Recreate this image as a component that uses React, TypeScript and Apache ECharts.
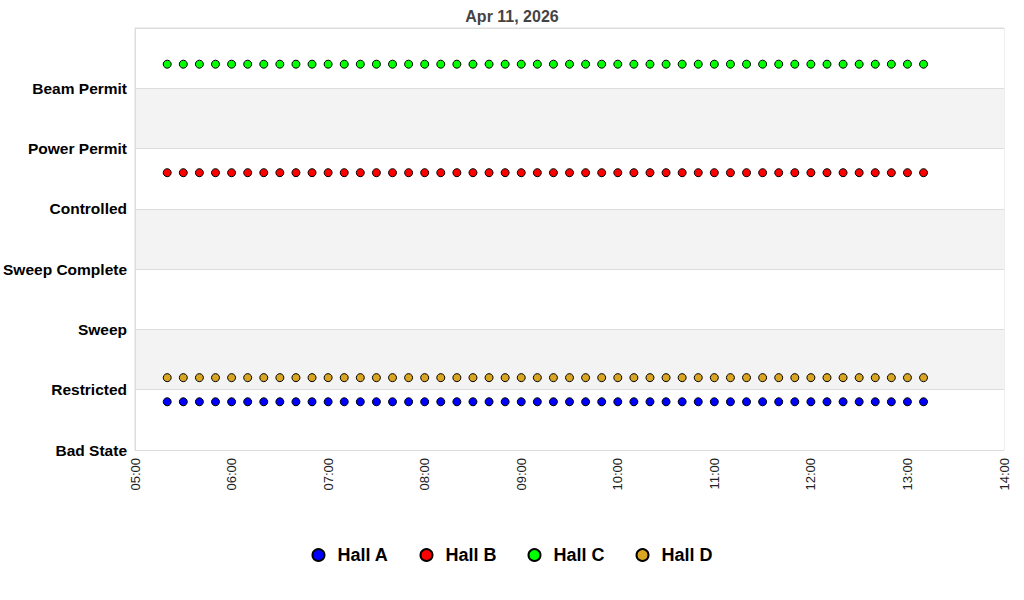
import React, { useEffect, useRef } from 'react';
import * as echarts from 'echarts';

const stateNames = ['Bad State', 'Restricted', 'Sweep', 'Sweep Complete', 'Controlled', 'Power Permit', 'Beam Permit'];

const times = [
  '05:20', '05:30', '05:40', '05:50', '06:00', '06:10', '06:20', '06:30', '06:40', '06:50', '07:00', '07:10',
  '07:20', '07:30', '07:40', '07:50', '08:00', '08:10', '08:20', '08:30', '08:40', '08:50', '09:00', '09:10',
  '09:20', '09:30', '09:40', '09:50', '10:00', '10:10', '10:20', '10:30', '10:40', '10:50', '11:00', '11:10',
  '11:20', '11:30', '11:40', '11:50', '12:00', '12:10', '12:20', '12:30', '12:40', '12:50', '13:00', '13:10',
];

const hallA = [
  0.8, 0.8, 0.8, 0.8, 0.8, 0.8, 0.8, 0.8, 0.8, 0.8, 0.8, 0.8,
  0.8, 0.8, 0.8, 0.8, 0.8, 0.8, 0.8, 0.8, 0.8, 0.8, 0.8, 0.8,
  0.8, 0.8, 0.8, 0.8, 0.8, 0.8, 0.8, 0.8, 0.8, 0.8, 0.8, 0.8,
  0.8, 0.8, 0.8, 0.8, 0.8, 0.8, 0.8, 0.8, 0.8, 0.8, 0.8, 0.8,
];
const hallB = [
  4.6, 4.6, 4.6, 4.6, 4.6, 4.6, 4.6, 4.6, 4.6, 4.6, 4.6, 4.6,
  4.6, 4.6, 4.6, 4.6, 4.6, 4.6, 4.6, 4.6, 4.6, 4.6, 4.6, 4.6,
  4.6, 4.6, 4.6, 4.6, 4.6, 4.6, 4.6, 4.6, 4.6, 4.6, 4.6, 4.6,
  4.6, 4.6, 4.6, 4.6, 4.6, 4.6, 4.6, 4.6, 4.6, 4.6, 4.6, 4.6,
];
const hallC = [
  6.4, 6.4, 6.4, 6.4, 6.4, 6.4, 6.4, 6.4, 6.4, 6.4, 6.4, 6.4,
  6.4, 6.4, 6.4, 6.4, 6.4, 6.4, 6.4, 6.4, 6.4, 6.4, 6.4, 6.4,
  6.4, 6.4, 6.4, 6.4, 6.4, 6.4, 6.4, 6.4, 6.4, 6.4, 6.4, 6.4,
  6.4, 6.4, 6.4, 6.4, 6.4, 6.4, 6.4, 6.4, 6.4, 6.4, 6.4, 6.4,
];
const hallD = [
  1.2, 1.2, 1.2, 1.2, 1.2, 1.2, 1.2, 1.2, 1.2, 1.2, 1.2, 1.2,
  1.2, 1.2, 1.2, 1.2, 1.2, 1.2, 1.2, 1.2, 1.2, 1.2, 1.2, 1.2,
  1.2, 1.2, 1.2, 1.2, 1.2, 1.2, 1.2, 1.2, 1.2, 1.2, 1.2, 1.2,
  1.2, 1.2, 1.2, 1.2, 1.2, 1.2, 1.2, 1.2, 1.2, 1.2, 1.2, 1.2,
];

const halls = [
  { name: 'Hall A', color: '#0000ff', values: hallA },
  { name: 'Hall B', color: '#ff0000', values: hallB },
  { name: 'Hall C', color: '#00ff00', values: hallC },
  { name: 'Hall D', color: '#daa520', values: hallD },
];

const toMinutes = (t: string) => {
  const [h, m] = t.split(':').map(Number);
  return h * 60 + m;
};

const pad = (n: number) => (n < 10 ? '0' + n : '' + n);

const font = 'Liberation Sans, Arial, sans-serif';

const App: React.FC = () => {
  const chartRef = useRef<HTMLDivElement>(null);

  useEffect(() => {
    document.body.style.margin = '0';
    if (!chartRef.current) return;
    const chart = echarts.init(chartRef.current, null, { renderer: 'svg' });

    const option = {
      animation: false,
      textStyle: { fontFamily: font },
      title: {
        text: 'Apr 11, 2026',
        left: 'center',
        top: 3,
        textStyle: { fontSize: 16, fontWeight: 'bold', color: '#444444', fontFamily: font },
      },
      grid: { left: 135, right: 20, top: 28, bottom: 150, show: true, borderColor: '#dddddd', borderWidth: 1 },
      xAxis: {
        type: 'value',
        min: 300,
        max: 840,
        interval: 60,
        axisLine: { show: true, lineStyle: { color: '#dddddd' } },
        axisTick: { show: false },
        splitLine: { show: false },
        axisLabel: {
          rotate: 90,
          color: '#222222',
          fontSize: 13,
          fontFamily: font,
          margin: 8,
          formatter: (v: number) => pad(Math.floor(v / 60)) + ':00',
        },
      },
      yAxis: {
        type: 'value',
        min: 0,
        max: 7,
        interval: 1,
        axisLine: { show: true, lineStyle: { color: '#dddddd' } },
        axisTick: { show: false },
        splitLine: { show: true, lineStyle: { color: '#dddddd' } },
        splitArea: { show: true, areaStyle: { color: ['#ffffff', '#f3f3f3'] } },
        axisLabel: {
          color: '#000000',
          fontSize: 15.5,
          fontWeight: 'bold',
          fontFamily: font,
          margin: 8,
          formatter: (v: number) => stateNames[v] || '',
        },
      },
      legend: {
        bottom: 31,
        left: 'center',
        itemGap: 31,
        itemWidth: 12,
        itemHeight: 12,
        icon: 'circle',
        textStyle: { fontSize: 18, fontWeight: 'bold', color: '#000000', fontFamily: font, padding: [0, 0, 0, 8] },
        data: halls.map(h => h.name),
      },
      series: halls.map(h => ({
        name: h.name,
        type: 'scatter',
        symbol: 'circle',
        symbolSize: 8,
        itemStyle: { color: h.color, borderColor: '#000000', borderWidth: 1, opacity: 1 },
        data: times.map((t, i) => [toMinutes(t), h.values[i]]),
      })),
    };

    chart.setOption(option);
    return () => {
      chart.dispose();
    };
  }, []);

  return <div ref={chartRef} style={{ width: 1024, height: 600 }} />;
};

export default App;
